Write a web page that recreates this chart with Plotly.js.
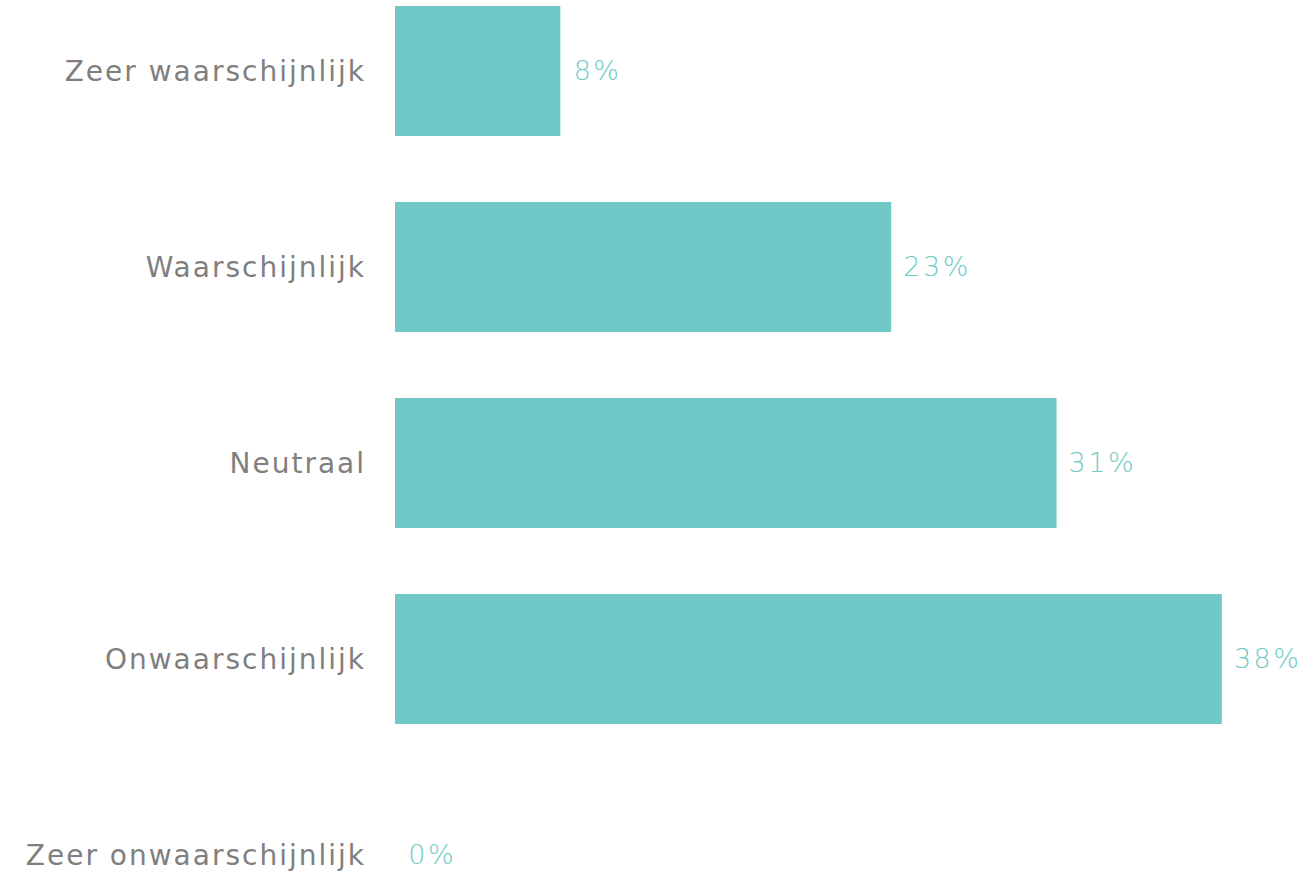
<!DOCTYPE html>
<html>
<head>
<meta charset="utf-8">
<script src="https://cdn.plot.ly/plotly-3.0.1.min.js"></script>
<style>
html,body{margin:0;padding:0;background:#fff;}
#chart{width:1310px;height:873px;}
#chart .ytick text{letter-spacing:2px;}
#chart .bars text{letter-spacing:2.5px;word-spacing:6px;}
</style>
</head>
<body>
<div id="chart"></div>
<script>
var categories = ["Zeer waarschijnlijk", "Waarschijnlijk", "Neutraal", "Onwaarschijnlijk", "Zeer onwaarschijnlijk"];
var values = [7.69, 23.08, 30.77, 38.46, 0];
var valueLabels = ["8%", "23%", "31%", "38%", "0%"];

var trace = {
  type: "bar",
  orientation: "h",
  y: categories,
  x: values,
  text: valueLabels.map(function(s){ return " " + s; }),
  texttemplate: "%{text}",
  textposition: "outside",
  cliponaxis: false,
  textfont: {family: "DejaVu Sans, sans-serif", size: 27, color: "#6fcac6", weight: 200},
  marker: {color: "#70c9c6", line: {width: 0}},
  hoverinfo: "none"
};

var layout = {
  width: 1310, height: 873,
  margin: {l: 395, r: 0, t: 0, b: 0},
  paper_bgcolor: "#ffffff",
  plot_bgcolor: "#ffffff",
  showlegend: false,
  bargap: 0.337,
  xaxis: {range: [0, 42.56], visible: false, fixedrange: true},
  yaxis: {
    type: "category",
    range: [4.092, -0.362],
    showgrid: false, zeroline: false, showline: false,
    ticks: "",
    ticklabelstandoff: 28,
    tickfont: {family: "DejaVu Sans, sans-serif", size: 28, color: "#7f7f7f"},
    fixedrange: true
  }
};

Plotly.newPlot("chart", [trace], layout, {displayModeBar: false, staticPlot: true});
</script>
</body>
</html>
